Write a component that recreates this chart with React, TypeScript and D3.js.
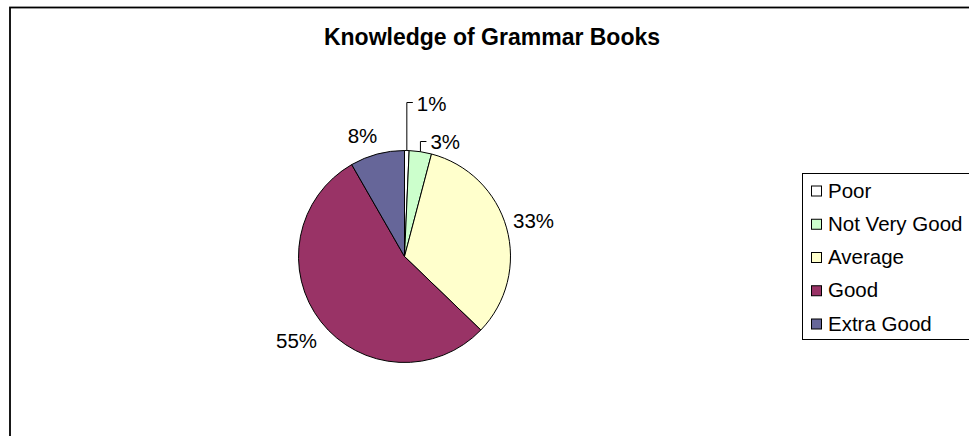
import React from "react";
import * as d3 from "d3";

const categories = ["Poor", "Not Very Good", "Average", "Good", "Extra Good"];
const values = [0.7, 3.4, 33.1, 54.5, 8.3];
const colors = ["#FFFFFF", "#CCFFCC", "#FFFFCC", "#993366", "#666699"];
const title = "Knowledge of Grammar Books";

const W = 969;
const H = 436;
const cx = 404.5;
const cy = 256.5;
const R = 106;

export default function App() {
  const total = d3.sum(values);
  const pie = d3.pie<number>().sort(null).value((d) => d)(values);
  const arc = d3.arc<d3.PieArcDatum<number>>().innerRadius(0).outerRadius(R);
  const font = "Arial, 'Liberation Sans', sans-serif";
  const labelR = [0, 0, R + 28, R + 31, R + 22];
  const nudge = [[0, 0], [0, 0], [0, 0], [0, 0], [-9, 3]];
  const legendY = d3.scaleLinear().domain([0, categories.length - 1]).range([190.5, 323.5]);
  return (
    <div style={{ position: "absolute", left: 0, top: 0 }}>
      <svg width={W} height={H} style={{ display: "block" }}>
        <rect x={0} y={0} width={W} height={H} fill="#fff" />
        <rect x={10} y={7.5} width={W + 20} height={H + 20} fill="none" stroke="#000" strokeWidth={1.8} />
        <text x={492} y={45} textAnchor="middle" fontFamily={font} fontWeight="bold" fontSize={23} fill="#000">
          {title}
        </text>
        <g transform={`translate(${cx},${cy})`}>
          {pie.map((p, i) => (
            <path key={i} d={arc(p) || ""} fill={colors[i]} stroke="#000" strokeWidth={1} />
          ))}
          {pie.map((p, i) => {
            const mid = (p.startAngle + p.endAngle) / 2;
            const pct = Math.round((values[i] / total) * 100) + "%";
            const x0 = Math.sin(mid) * R;
            const y0 = -Math.cos(mid) * R;
            if (i === 0) {
              return (
                <g key={i}>
                  <path d={`M${x0},${y0}V${-R - 48}h6`} fill="none" stroke="#000" strokeWidth={1} />
                  <text x={x0 + 10} y={-R - 40} fontFamily={font} fontSize={20.5} fill="#000">{pct}</text>
                </g>
              );
            }
            if (i === 1) {
              return (
                <g key={i}>
                  <path d={`M${x0},${y0}V${-R - 9}h6`} fill="none" stroke="#000" strokeWidth={1} />
                  <text x={x0 + 10} y={-R - 2} fontFamily={font} fontSize={20.5} fill="#000">{pct}</text>
                </g>
              );
            }
            const lr = labelR[i];
            const x = Math.sin(mid) * lr + nudge[i][0];
            const y = -Math.cos(mid) * lr + nudge[i][1];
            return (
              <text key={i} x={x} y={y} textAnchor="middle" dominantBaseline="central" fontFamily={font} fontSize={20.5} fill="#000">
                {pct}
              </text>
            );
          })}
        </g>
        <rect x={802.5} y={173.5} width={200} height={166} fill="#fff" stroke="#000" strokeWidth={1} />
        {categories.map((c, i) => {
          const y = legendY(i);
          return (
            <g key={c}>
              <rect x={811.5} y={y - 4.5} width={10} height={10} fill={colors[i]} stroke="#000" strokeWidth={1} />
              <text x={828} y={y + 7} fontFamily={font} fontSize={20.5} fill="#000">
                {c}
              </text>
            </g>
          );
        })}
      </svg>
    </div>
  );
}
